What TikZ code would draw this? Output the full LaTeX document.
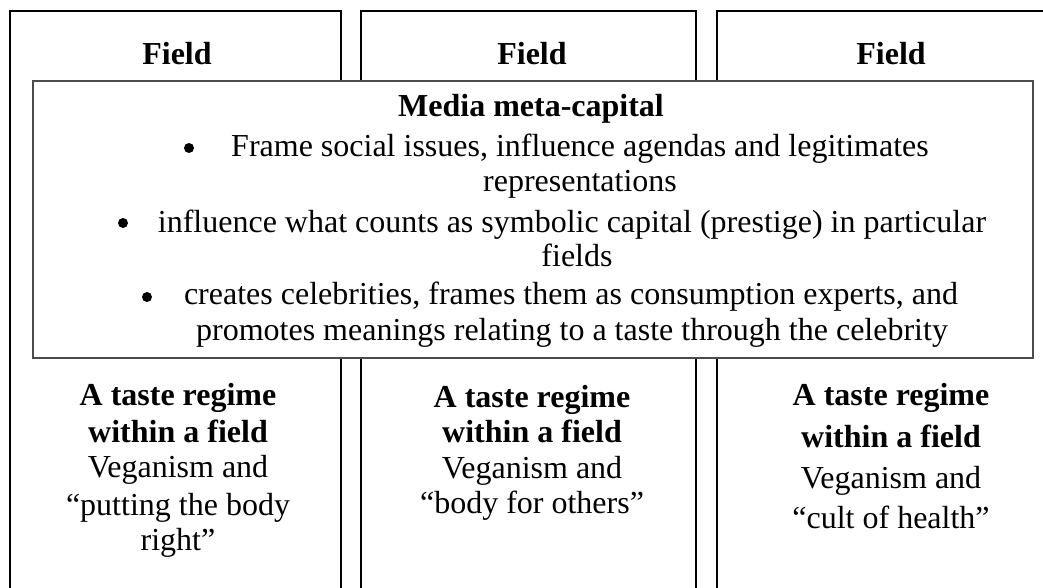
\documentclass[tikz,border=0pt]{standalone}
\usepackage{fontspec}
\setmainfont{Liberation Serif}
\begin{document}
\begin{tikzpicture}[x=0.75pt,y=-0.75pt,
  fieldbox/.style={draw=black,line width=1.5pt},
  mediabox/.style={draw=black!70,line width=1pt,fill=white},
  txt/.style={anchor=base,inner sep=0pt,font=\fontsize{24}{26}\selectfont},
  btxt/.style={anchor=base,inner sep=0pt,font=\fontsize{24}{26}\selectfont\bfseries},
  dot/.style={circle,fill=black,inner sep=0pt,minimum size=7.5pt}]
\useasboundingbox (0,0) rectangle (1043,588);
\begin{scope}
  \clip (0,0) rectangle (1043,588);
  % the three fields, running past the lower edge
  \draw[fieldbox] (10,11) rectangle (341,620);
  \draw[fieldbox] (361,11) rectangle (696,620);
  \draw[fieldbox] (717,11) rectangle (1065,620);
  \node[btxt] (fieldA) at (177,65) {Field};
  \node[btxt] (fieldB) at (532,65) {Field};
  \node[btxt] (fieldC) at (891,65) {Field};

  % media meta-capital panel laid across the fields
  \draw[mediabox] (33,81) rectangle (1033,358);
  \node[btxt] (media) at (531,117) {Media meta-capital};

  \node[dot] (b1) at (189,148) {};
  \node[txt] (m1a) at (580,157) {Frame social issues, influence agendas and legitimates};
  \node[txt] (m1b) at (580,192) {representations};

  \node[dot] (b2) at (123,223) {};
  \node[txt] (m2a) at (572,233) {influence what counts as symbolic capital (prestige) in particular};
  \node[txt] (m2b) at (577,267) {fields};

  \node[dot] (b3) at (147,297) {};
  \node[txt] (m3a) at (571,305) {creates celebrities, frames them as consumption experts, and};
  \node[txt] (m3b) at (572,340) {promotes meanings relating to a taste through the celebrity};

  % taste regimes
  \node[btxt] (tA1) at (178,405) {A taste regime};
  \node[btxt] (tA2) at (178,442) {within a field};
  \node[txt]  (tA3) at (178,477) {Veganism and};
  \node[txt]  (tA4) at (178,515) {``putting the body};
  \node[txt]  (tA5) at (178,550) {right''};

  \node[btxt] (tB1) at (532,407) {A taste regime};
  \node[btxt] (tB2) at (532,442) {within a field};
  \node[txt]  (tB3) at (532,478) {Veganism and};
  \node[txt]  (tB4) at (532,513) {``body for others''};

  \node[btxt] (tC1) at (891,405) {A taste regime};
  \node[btxt] (tC2) at (891,447) {within a field};
  \node[txt]  (tC3) at (891,488) {Veganism and};
  \node[txt]  (tC4) at (891,528) {``cult of health''};
\end{scope}
\end{tikzpicture}
\end{document}
